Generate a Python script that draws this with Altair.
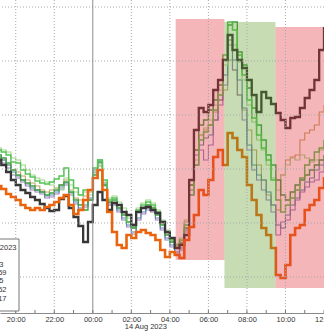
import altair as alt
import pandas as pd

# 15-minute grid, 13 Aug 2023 19:00 -> 14 Aug 2023 12:00 (UTC)
times = pd.date_range("2023-08-13 19:00", "2023-08-14 12:00", freq="15min")
time_str = [t.strftime("%Y-%m-%dT%H:%M:00Z") for t in times]

dark = [117,112,105,97,92,87,84,80,77,73, 69,66,67,78,81,69,60,51,35,55,
        72,85,77,67,74,72,65,62,52,65, 69,70,67,64,55,45,39,29,32,42,
        97,147,169,165,172,187,197,217,242,227, 217,209,197,182,165,185,179,173,164,157,
        149,159,160,169,179,187,197,227,250]
orange = [91,88,83,80,77,72,69,67,69,67, 70,72,75,79,82,72,63,67,77,87,
          99,107,87,65,45,32,29,42,39,45, 47,44,42,37,27,20,25,22,19,37,
          50,62,87,82,97,120,127,112,144,139, 127,120,92,77,62,49,42,29,2,-1,
          12,42,49,52,67,72,77,89,100]
green = [127,125,122,115,114,107,103,100,96,94, 93,95,98,101,109,97,89,82,87,87,
         109,117,97,77,79,72,65,55,51,67, 72,75,72,65,55,45,37,32,37,52,
         82,112,137,145,152,167,182,222,255,247, 222,202,177,159,142,129,117,97,77,65,
         72,79,87,99,112,117,125,129,137]
midgreen = [122,119,114,107,102,97,94,91,87,85, 82,84,87,92,95,85,77,72,67,77,
            102,115,92,75,77,69,62,55,49,65, 69,72,69,62,52,42,35,29,34,49,
            92,127,152,157,167,177,192,217,252,255, 225,212,189,169,152,137,122,112,97,82,
            77,85,92,97,102,107,112,117,122]
lightgreen = [129,127,125,119,117,112,107,102,99,97, 95,92,89,87,99,92,85,82,85,82,
              105,112,95,79,81,75,69,59,53,69, 74,77,74,67,57,47,39,33,39,57,
              87,117,142,149,157,172,187,212,237,232, 215,197,172,155,137,127,112,99,87,102,
              112,119,117,122,119,115,117,127,132]
tan = [119,117,112,107,105,101,97,94,91,87, 85,87,89,92,97,87,79,77,81,85,
       104,111,91,72,75,69,63,55,49,65, 70,72,70,63,53,43,35,30,36,55,
       92,127,142,147,152,165,177,187,217,207, 182,167,147,127,112,97,82,72,67,102,
       117,120,122,137,144,147,152,165,172]
steelblue = [120,117,112,105,101,97,93,89,87,85, 81,82,85,90,94,84,75,69,72,79,
             107,117,94,74,74,67,59,52,45,59, 65,69,67,59,49,39,32,25,29,47,
             87,112,132,139,142,157,177,202,237,217, 197,169,132,112,102,97,85,72,52,49,
             62,72,79,87,95,99,107,112,117]
purple = [117,114,109,102,99,95,91,87,85,83, 79,80,83,88,92,82,73,67,70,77,
          105,114,92,72,72,65,57,50,43,57, 63,67,65,57,47,37,30,23,27,45,
          82,122,127,117,132,157,172,192,232,207, 182,157,127,107,97,87,77,65,42,55,
          57,67,77,85,90,95,97,105,112]

# drawing order: first listed is drawn first
series = [
    ("Tan", tan, "#c4a466", 1.1),
    ("Purple", purple, "#9a7cc4", 1.1),
    ("Steel", steelblue, "#5b86a8", 1.1),
    ("LightGreen", lightgreen, "#a3d68e", 1.2),
    ("MidGreen", midgreen, "#3f9e45", 1.4),
    ("Green", green, "#55c455", 1.5),
    ("Dark", dark, "#373737", 2.3),
    ("Orange", orange, "#ea640e", 2.6),
]

# highlight boxes
box_start = ["2023-08-14T04:18:00Z", "2023-08-14T06:50:00Z", "2023-08-14T09:29:00Z"]
box_end = ["2023-08-14T06:50:00Z", "2023-08-14T09:29:00Z", "2023-08-14T12:30:00Z"]
box_low = [17, -11, -11]
box_high = [258, 255, 250]
box_fill = ["#e22e37", "#629b29", "#e22e37"]

grid_values = [0, 54, 108, 162, 216, 270]
grid_times = ["2023-08-13T20:00:00Z", "2023-08-13T22:00:00Z", "2023-08-14T02:00:00Z",
              "2023-08-14T04:00:00Z", "2023-08-14T06:00:00Z", "2023-08-14T08:00:00Z",
              "2023-08-14T10:00:00Z"]
midnight = ["2023-08-14T00:00:00Z"]
hour_ticks = [f"2023-08-13T{h:02d}:00:00Z" for h in range(20, 24)] + \
             [f"2023-08-14T{h:02d}:00:00Z" for h in range(0, 13)]
label_hours = [(2023, 8, 13, 20), (2023, 8, 13, 22)] + [(2023, 8, 14, h) for h in range(0, 13, 2)]
date_label = "14 Aug 2023"
legend_lines = ["Last Price 14 Aug 2023", "USDCNH", "7.2683", "7.2859", "7.2805",
                "7.2752", "7.2717"]

xscale = alt.Scale(type="utc", domain=[
    alt.DateTime(year=2023, month=8, date=13, hours=19, minutes=11, utc=True),
    alt.DateTime(year=2023, month=8, date=14, hours=12, minutes=0, utc=True)])
xaxis = alt.Axis(
    values=[alt.DateTime(year=y, month=m, date=d, hours=h, utc=True) for (y, m, d, h) in label_hours],
    format="%H:%M", labelFlush=False, labelOverlap=False, labelBound=False,
    ticks=False, tickSize=0, grid=False, domain=True, domainColor="#8a8a8a",
    labelFont="Liberation Sans", labelFontSize=7.5, labelColor="#333333",
    labelPadding=2, title=None)
yscale = alt.Scale(domain=[-36, 277], nice=False, zero=False)

X = alt.X("t:T", scale=xscale, axis=xaxis)
Y = alt.Y("v:Q", scale=yscale, axis=None)

line_layers = []
for name, vals, col, w in series:
    df = pd.DataFrame({"t": time_str, "v": vals})
    line_layers.append(alt.Chart(df).mark_line(
        interpolate="step-after", clip=True, color=col, strokeWidth=w).encode(x=X, y=Y))

box_layers = []
for t1, t2, lo, hi, f in zip(box_start, box_end, box_low, box_high, box_fill):
    df = pd.DataFrame({"t": [t1], "t2": [t2], "v": [lo], "v2": [hi]})
    box_layers.append(alt.Chart(df).mark_rect(opacity=0.35, clip=True, fill=f).encode(
        x=X, x2="t2:T", y=Y, y2="v2:Q"))

hgrid = alt.Chart(pd.DataFrame({"v": grid_values})).mark_rule(
    color="#a8a8a8", strokeDash=[1, 2], strokeWidth=1).encode(y=Y)
vgrid = alt.Chart(pd.DataFrame({"t": grid_times})).mark_rule(
    color="#a8a8a8", strokeDash=[1, 2], strokeWidth=1).encode(x=X)
mid = alt.Chart(pd.DataFrame({"t": midnight})).mark_rule(
    color="#8c8c8c", strokeWidth=1).encode(x=X)
ticks = alt.Chart(pd.DataFrame({"t": hour_ticks})).mark_rule(
    color="#777777", strokeWidth=1).encode(x=X, y=alt.value(310), y2=alt.value(313))
date_txt = alt.Chart(pd.DataFrame({"t": ["2023-08-14T02:45:00Z"], "lab": [date_label]})).mark_text(
    font="Liberation Sans", fontSize=7.5, color="#333333", baseline="middle", align="center").encode(
    x=X, y=alt.value(327), text="lab:N")

legend_box = alt.Chart(pd.DataFrame({"a": [0]})).mark_rect(
    fill="white", stroke="#777777", strokeWidth=1).encode(
    x=alt.value(-20), x2=alt.value(19), y=alt.value(239), y2=alt.value(311))

legend_pos = [(16.5, 248), (-3, 257), (3.5, 265), (6.5, 273), (3.5, 281), (6.5, 290), (6.5, 299)]
legend_layers = []
for txt, (lx, ly) in zip(legend_lines, legend_pos):
    legend_layers.append(alt.Chart(pd.DataFrame({"a": [0]})).mark_text(
        text=txt, align="right", baseline="middle", font="Liberation Sans",
        fontSize=7.5, color="#333333").encode(x=alt.value(lx), y=alt.value(ly)))

chart = alt.layer(
    *line_layers, *box_layers, hgrid, vgrid, mid, ticks, date_txt, legend_box, *legend_layers
).properties(
    width=324, height=313,
    autosize=alt.AutoSizeParams(type="none"),
    padding={"left": 0, "top": 0, "right": 0, "bottom": 18},
    background="white",
).configure_view(stroke=None)

chart.save("out.html", embed_options={"renderer": "svg", "actions": False})
